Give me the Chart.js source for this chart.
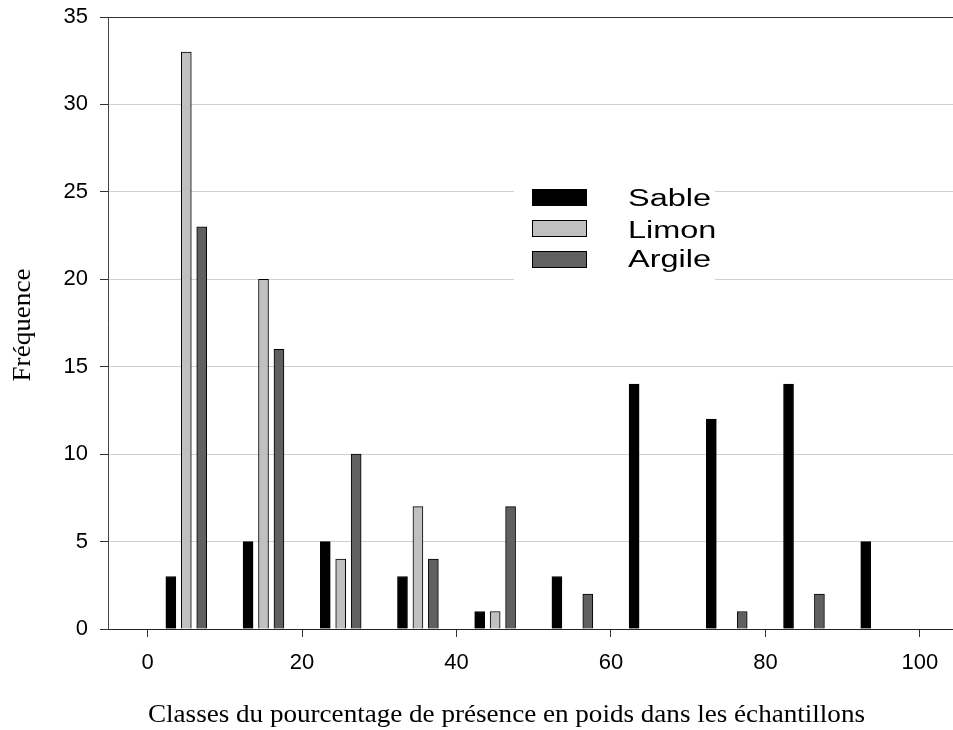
<!DOCTYPE html>
<html>
<head>
<meta charset="utf-8">
<script src="https://cdn.jsdelivr.net/npm/chart.js@4.4.0/dist/chart.umd.min.js"></script>
<style>
  body { margin: 0; background: #fff; }
  #wrap { width: 953px; height: 730px; }
</style>
</head>
<body>
<div id="wrap"><canvas id="chart" width="953" height="730"></canvas></div>
<script>
// Données
const sableX = [3, 13, 23, 33, 43, 53, 63, 73, 83, 93];
const sableY = [3, 5, 5, 3, 1, 3, 14, 12, 14, 5];
const limonX = [5, 15, 25, 35, 45];
const limonY = [33, 20, 4, 7, 1];
const argileX = [7, 17, 27, 37, 47, 57, 77, 87];
const argileY = [23, 16, 10, 4, 7, 2, 1, 2];

const xTicks = [0, 20, 40, 60, 80, 100];
const yTicks = [0, 5, 10, 15, 20, 25, 30, 35];

const xTitle = 'Classes du pourcentage de présence en poids dans les échantillons';
const yTitle = 'Fréquence';

function toPoints(xs, ys) {
  return xs.map((x, i) => ({ x: x, y: ys[i] }));
}

// Titres et légende dessinés à la main (texte étiré comme sur l'original)
const decorPlugin = {
  id: 'decor',
  afterDraw(chart) {
    const ctx = chart.ctx;
    ctx.save();
    ctx.fillStyle = '#000';

    // titre axe x
    ctx.font = '25px "Liberation Serif", "Times New Roman", serif';
    ctx.textAlign = 'center';
    ctx.textBaseline = 'alphabetic';
    let w = ctx.measureText(xTitle).width;
    ctx.save();
    ctx.translate(506.5, 722);
    ctx.scale(717 / w, 1);
    ctx.fillText(xTitle, 0, 0);
    ctx.restore();

    // titre axe y
    w = ctx.measureText(yTitle).width;
    ctx.save();
    ctx.translate(30, 325);
    ctx.rotate(-Math.PI / 2);
    ctx.scale(113 / w, 1);
    ctx.fillText(yTitle, 0, 0);
    ctx.restore();

    // légende
    ctx.fillStyle = '#fff';
    ctx.fillRect(514, 180, 201, 102);
    ctx.font = '23px "Liberation Sans", Arial, sans-serif';
    ctx.textAlign = 'left';
    const sx = 83 / ctx.measureText('Sable').width;
    const boxTops = [189, 220, 251];
    const baselines = [206, 238, 267];
    chart.data.datasets.forEach((ds, i) => {
      ctx.fillStyle = ds.backgroundColor;
      ctx.fillRect(532, boxTops[i], 55, 17);
      ctx.strokeStyle = '#000';
      ctx.lineWidth = 1;
      ctx.strokeRect(532.5, boxTops[i] + 0.5, 54, 16);
      ctx.save();
      ctx.translate(628, baselines[i]);
      ctx.scale(sx, 1);
      ctx.fillStyle = '#000';
      ctx.fillText(ds.label, 0, 0);
      ctx.restore();
    });
    ctx.restore();
  }
};

const common = { borderColor: '#000', borderWidth: 1, barThickness: 10, grouped: false };

new Chart(document.getElementById('chart'), {
  type: 'bar',
  data: {
    datasets: [
      Object.assign({ label: 'Sable', data: toPoints(sableX, sableY), backgroundColor: '#000000' }, common),
      Object.assign({ label: 'Limon', data: toPoints(limonX, limonY), backgroundColor: '#c0c0c0' }, common),
      Object.assign({ label: 'Argile', data: toPoints(argileX, argileY), backgroundColor: '#606060' }, common)
    ]
  },
  options: {
    responsive: false,
    animation: false,
    layout: { padding: { top: 17, right: 0, left: 0, bottom: 0 } },
    plugins: {
      legend: { display: false },
      tooltip: { enabled: false }
    },
    scales: {
      x: {
        type: 'linear',
        offset: false,
        min: -5.14,
        max: 104.3,
        afterFit: s => { s.height = 101; s.paddingLeft = 0; s.paddingRight = 0; },
        afterBuildTicks: s => { s.ticks = xTicks.map(v => ({ value: v })); },
        border: { display: true, color: '#222', width: 1 },
        grid: { offset: false, drawOnChartArea: false, drawTicks: true, tickLength: 8, tickColor: '#333' },
        ticks: {
          color: '#000',
          padding: 13,
          maxRotation: 0,
          font: { family: '"Liberation Sans", Arial, sans-serif', size: 22 }
        }
      },
      y: {
        min: 0,
        max: 35,
        afterFit: s => { s.width = 108; s.paddingTop = 0; s.paddingBottom = 0; },
        afterBuildTicks: s => { s.ticks = yTicks.map(v => ({ value: v })); },
        border: { display: true, color: '#444', width: 1 },
        grid: {
          color: ctx => ctx.tick && ctx.tick.value === 35 ? '#333' : '#d0d0d0',
          tickColor: '#333',
          tickLength: 8
        },
        ticks: {
          color: '#000',
          padding: 12,
          font: { family: '"Liberation Sans", Arial, sans-serif', size: 22 }
        }
      }
    }
  },
  plugins: [decorPlugin]
});
</script>
</body>
</html>
